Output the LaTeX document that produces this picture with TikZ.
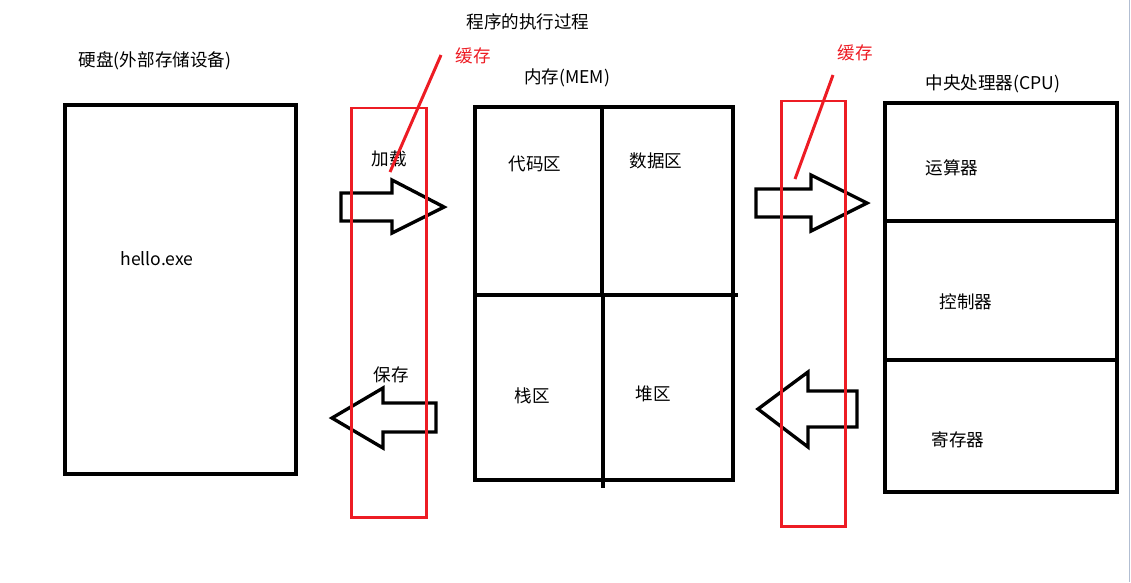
\documentclass[tikz,border=0pt]{standalone}
\usepackage{fontspec}
\setmainfont{Noto Sans CJK SC}
\definecolor{cachered}{RGB}{237,28,36}
\definecolor{edgegray}{RGB}{178,190,210}

\begin{document}
\begin{tikzpicture}[x=0.02cm,y=-0.02cm,
  box/.style={draw,line width=1.9pt},
  cache/.style={draw=cachered,line width=1.7pt},
  lbl/.style={inner sep=0pt,font=\fontsize{10}{12}\selectfont},
  redlbl/.style={lbl,text=cachered}]
\useasboundingbox(0,0)rectangle(1131,582);
\node[lbl](title)at(528,22){程序的执行过程};
% disk
\node[lbl](disklbl)at(155,61){硬盘(外部存储设备)};
\draw[box](65,105)rectangle(296,474);
\node[lbl](hello)at(157,259){hello.exe};
% memory
\node[lbl](memlbl)at(567,78){内存(MEM)};
\draw[box](475,107)rectangle(733,480);
\draw[box](602,107)--(602,295);
\draw[box](603,295)--(603,488);
\draw[box](475,295)--(738,295);
\node[lbl](code)at(535,164){代码区};
\node[lbl](data)at(656,161){数据区};
\node[lbl](stack)at(532,396){栈区};
\node[lbl](heap)at(653,394){堆区};
% cpu
\node[lbl](cpulbl)at(993,84){中央处理器(CPU)};
\draw[box](885,103)rectangle(1117,492);
\draw[box](885,221)--(1119,221);
\draw[box](885,360)--(1117,360);
\node[lbl](alu)at(952,168){运算器};
\node[lbl](ctrl)at(966,302){控制器};
\node[lbl](reg)at(958,440){寄存器};
% block arrows
\node[lbl](load)at(389,159){加载};
\draw[box](341,193)--(392,193)--(392,180)--(444,207)--(392,233)--(392,221)--(341,221)--cycle;
\node[lbl](save)at(391,375){保存};
\draw[box](436,403)--(383,403)--(383,388)--(332,418)--(383,448)--(383,432)--(436,432)--cycle;
\draw[box](756,189)--(811,189)--(811,175)--(867,203)--(811,231)--(811,217)--(756,217)--cycle;
\draw[box](857,391)--(808,391)--(808,372)--(758,409)--(808,447)--(808,427)--(857,427)--cycle;
% cache
\draw[cache](351,108)rectangle(426,517);
\node[redlbl](cache1)at(473,56){缓存};
\draw[cache](441,55)--(390,172);
\draw[cache](781,101)rectangle(845,526);
\node[redlbl](cache2)at(855,53){缓存};
\draw[cache](833,75)--(795,179);
\draw[edgegray,line width=0.5pt](1129,0)--(1129,582);
\end{tikzpicture}
\end{document}
